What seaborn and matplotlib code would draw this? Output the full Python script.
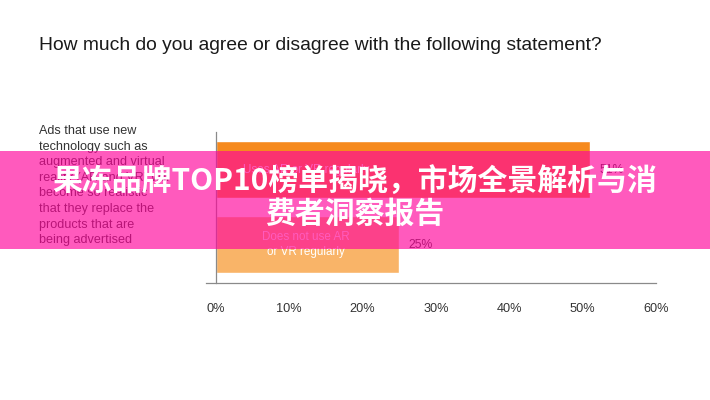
import matplotlib
matplotlib.use("Agg")
import matplotlib.pyplot as plt
import seaborn as sns
import pandas as pd
from matplotlib.patches import Rectangle

# chart data
groups = ["Uses AR or VR regularly", "Does not use AR or VR regularly"]
shares = [51, 25]
bar_text = ["Uses AR or VR regularly", "Does not use AR\nor VR regularly"]
bar_colors = ["#F68A1E", "#F9B468"]
x_ticks = [0, 10, 20, 30, 40, 50, 60]
x_tick_labels = ["0%", "10%", "20%", "30%", "40%", "50%", "60%"]

title = "How much do you agree or disagree with the following statement?"
statement_lines = ["Ads that use new", "technology such as", "augmented and virtual",
                   "reality (AR and VR) will", "become so realistic",
                   "that they replace the", "products that are", "being advertised"]
banner_lines = ["果冻品牌TOP10榜单揭晓，市场全景解析与消", "费者洞察报告"]

sns.set_style("white")
plt.rcParams["font.family"] = ["Liberation Sans", "DejaVu Sans"]

df = pd.DataFrame({"group": groups, "share": shares})

fig = plt.figure(figsize=(7.1, 4.0), dpi=100)
ax = fig.add_axes([206 / 710, 1 - 283 / 400, 450 / 710, 151 / 400])

sns.barplot(data=df, x="share", y="group", hue="group", palette=bar_colors,
            width=0.76, legend=False, ax=ax, saturation=1)

ax.set_xlim(-1.36, 60)
ax.set_ylim(1.51, -0.5)
ax.set_xlabel("")
ax.set_ylabel("")

# bar labels
for i, (v, t) in enumerate(zip(shares, bar_text)):
    ax.text(12.3, i, t, color="white", fontsize=8.4, ha="center", va="center",
            linespacing=1.35)
    ax.text(v + 1.3, i, f"{v}%", color="#333333", fontsize=8.8, ha="left", va="center")

# axes styling
for s in ["top", "right"]:
    ax.spines[s].set_visible(False)
ax.spines["left"].set_position(("data", 0))
ax.spines["left"].set_bounds(-0.5, 1.51)
for s in ["left", "bottom"]:
    ax.spines[s].set_color("#8a8a8a")
    ax.spines[s].set_linewidth(0.9)

ax.set_xticks(x_ticks)
ax.set_xticklabels(x_tick_labels, fontsize=9.2, color="#333333")
ax.set_yticks([-0.5, 0.5])
ax.set_yticklabels([])
ax.tick_params(axis="x", direction="out", length=7.2, width=0.9, color="#8a8a8a", pad=7.5)
ax.tick_params(axis="y", direction="out", length=7.2, width=0.9, color="#8a8a8a")

# title and statement
fig.text(39 / 710, 1 - 45 / 400, title, fontsize=13.9, color="#1a1a1a", ha="left", va="center")
for k, line in enumerate(statement_lines):
    fig.text(39 / 710, 1 - (131 + k * 15.6) / 400, line, fontsize=9.1,
             color="#333333", ha="left", va="center")

# pink banner overlay
fig.patches.append(Rectangle((0, 1 - 249 / 400), 1, 98 / 400, transform=fig.transFigure,
                             facecolor=(1.0, 0.02, 0.61), alpha=0.66, edgecolor="none",
                             zorder=5))
fig.text(0.5, 1 - 182 / 400, banner_lines[0], fontsize=21.5, fontweight="bold",
         color="white", ha="center", va="center", zorder=6,
         family=["Noto Sans CJK SC", "DejaVu Sans"])
fig.text(0.5, 1 - 214 / 400, banner_lines[1], fontsize=21.5, fontweight="bold",
         color="white", ha="center", va="center", zorder=6,
         family=["Noto Sans CJK SC", "DejaVu Sans"])

fig.savefig("out.png", dpi=100)
